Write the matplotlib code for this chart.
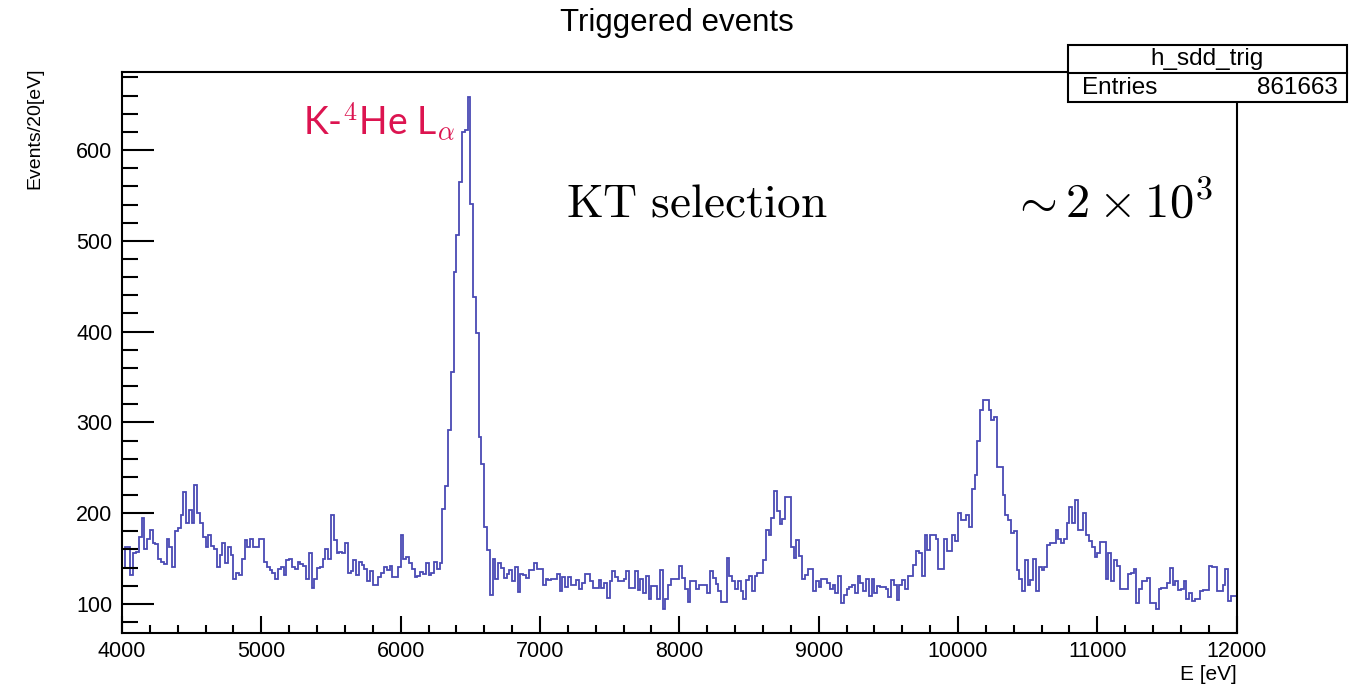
import numpy as np
import matplotlib
matplotlib.use("Agg")
import matplotlib.pyplot as plt
from matplotlib.ticker import MultipleLocator
from matplotlib.patches import Rectangle
from matplotlib.lines import Line2D

plt.rcParams['font.family'] = ['Liberation Sans', 'DejaVu Sans']
plt.rcParams['mathtext.fontset'] = 'cm'

# histogram h_sdd_trig: 20 eV bins from 4000 to 12000 eV
e_min, e_max, bin_width = 4000, 12000, 20
counts = [
    140, 163, 163, 132, 156, 157, 174, 195, 161, 172,
    182, 167, 166, 149, 146, 144, 172, 163, 141, 180,
    184, 198, 223, 189, 204, 189, 231, 200, 189, 174,
    163, 176, 164, 160, 141, 154, 167, 145, 163, 154,
    127, 134, 132, 150, 171, 163, 172, 163, 163, 172,
    172, 146, 141, 137, 134, 127, 139, 141, 132, 148,
    149, 141, 139, 146, 144, 142, 127, 156, 118, 127,
    140, 141, 150, 161, 149, 198, 170, 156, 157, 156,
    167, 134, 136, 148, 132, 146, 143, 139, 125, 136,
    121, 121, 130, 134, 141, 137, 142, 130, 130, 141,
    176, 150, 152, 145, 138, 130, 131, 135, 133, 145,
    132, 134, 146, 138, 145, 205, 230, 292, 355, 466,
    506, 565, 620, 622, 658, 541, 438, 399, 284, 254,
    185, 159, 110, 149, 128, 145, 140, 129, 133, 137,
    125, 141, 113, 133, 132, 129, 137, 137, 145, 139,
    138, 121, 128, 126, 127, 127, 133, 114, 130, 119,
    130, 121, 121, 126, 116, 123, 133, 133, 125, 118,
    118, 126, 118, 123, 107, 125, 136, 130, 125, 125,
    128, 136, 118, 118, 136, 115, 128, 112, 131, 106,
    120, 120, 106, 137, 94, 106, 121, 128, 128, 128,
    142, 129, 116, 102, 125, 125, 117, 121, 121, 121,
    112, 136, 129, 122, 114, 102, 102, 151, 131, 125,
    117, 125, 114, 105, 126, 131, 114, 131, 134, 134,
    148, 182, 176, 195, 224, 202, 188, 194, 218, 218,
    163, 151, 171, 153, 127, 132, 139, 139, 114, 125,
    119, 128, 128, 123, 117, 121, 112, 131, 101, 110,
    116, 119, 121, 112, 131, 123, 114, 128, 109, 128,
    112, 120, 119, 119, 116, 108, 126, 121, 104, 121,
    126, 117, 131, 131, 143, 158, 156, 131, 176, 159,
    176, 176, 172, 138, 138, 172, 158, 158, 176, 169,
    200, 192, 192, 198, 185, 227, 242, 280, 314, 325,
    325, 314, 303, 306, 251, 251, 220, 198, 193, 178,
    180, 137, 128, 114, 148, 121, 126, 150, 114, 141,
    137, 141, 165, 167, 167, 182, 172, 167, 172, 189,
    207, 189, 214, 181, 181, 200, 176, 169, 163, 152,
    156, 168, 168, 127, 156, 125, 148, 142, 116, 116,
    116, 133, 134, 138, 101, 116, 125, 125, 129, 101,
    101, 94, 116, 118, 118, 123, 140, 121, 125, 115,
    117, 125, 105, 112, 103, 105, 105, 114, 115, 115,
    142, 141, 141, 114, 114, 121, 138, 103, 109, 109,
]
hist_name = "h_sdd_trig"
entries = 861663

edges = np.arange(e_min, e_max + bin_width, bin_width)

fig = plt.figure(figsize=(13.71, 6.87), dpi=100)
ax = fig.add_axes([0.089, 0.0786, 0.813, 0.8166])

ax.stairs(counts, edges, color='#4a4ab4', linewidth=1.3, baseline=None)

ax.set_xlim(e_min, e_max)
ax.set_ylim(68, 686)

# ROOT style axes: ticks inside, only left and bottom
ax.xaxis.set_major_locator(MultipleLocator(1000))
ax.xaxis.set_minor_locator(MultipleLocator(200))
ax.yaxis.set_major_locator(MultipleLocator(100))
ax.yaxis.set_minor_locator(MultipleLocator(20))
ax.tick_params(axis='both', which='both', direction='in', top=False, right=False,
               labelsize=15.5, width=1.5)
ax.tick_params(axis='y', which='major', length=23, pad=7)
ax.tick_params(axis='y', which='minor', length=11.5)
ax.tick_params(axis='x', which='major', length=12, pad=6)
ax.tick_params(axis='x', which='minor', length=6)
for sp in ax.spines.values():
    sp.set_linewidth(1.5)

ax.set_ylabel("Events/20[eV]", fontsize=14)
ax.yaxis.set_label_coords(-0.071, 0.9)
ax.set_xlabel("E [eV]", fontsize=15, loc='right', labelpad=2)

fig.text(0.494, 0.967, "Triggered events", ha='center', va='center', fontsize=22.5)

# stats box
box = Rectangle((0.779, 0.8515), 0.2035, 0.083, transform=fig.transFigure,
                facecolor='white', edgecolor='black', linewidth=1.5, zorder=5)
fig.add_artist(box)
fig.add_artist(Line2D([0.779, 0.9825], [0.8937, 0.8937], transform=fig.transFigure,
                      color='black', linewidth=1.5, zorder=6))
fig.text(0.8805, 0.914, hist_name, ha='center', va='center', fontsize=17.5, zorder=7)
fig.text(0.789, 0.872, "Entries", ha='left', va='center', fontsize=17.5, zorder=7)
fig.text(0.976, 0.872, str(entries), ha='right', va='center', fontsize=17.5, zorder=7)

# annotations
ax.text(5850, 631, r"K-$^{\mathsf{4}}$He L$_{\alpha}$", color='#dc1450', fontsize=27,
        ha='center', va='center', family=['Lato', 'DejaVu Sans'])
ax.text(8126, 540, r"$\mathrm{KT\ selection}$", fontsize=34, ha='center', va='center')
ax.text(11103, 540, r"$\sim 2\times 10^3$", fontsize=35, ha='center', va='center')

fig.savefig("out.png", dpi=100)
